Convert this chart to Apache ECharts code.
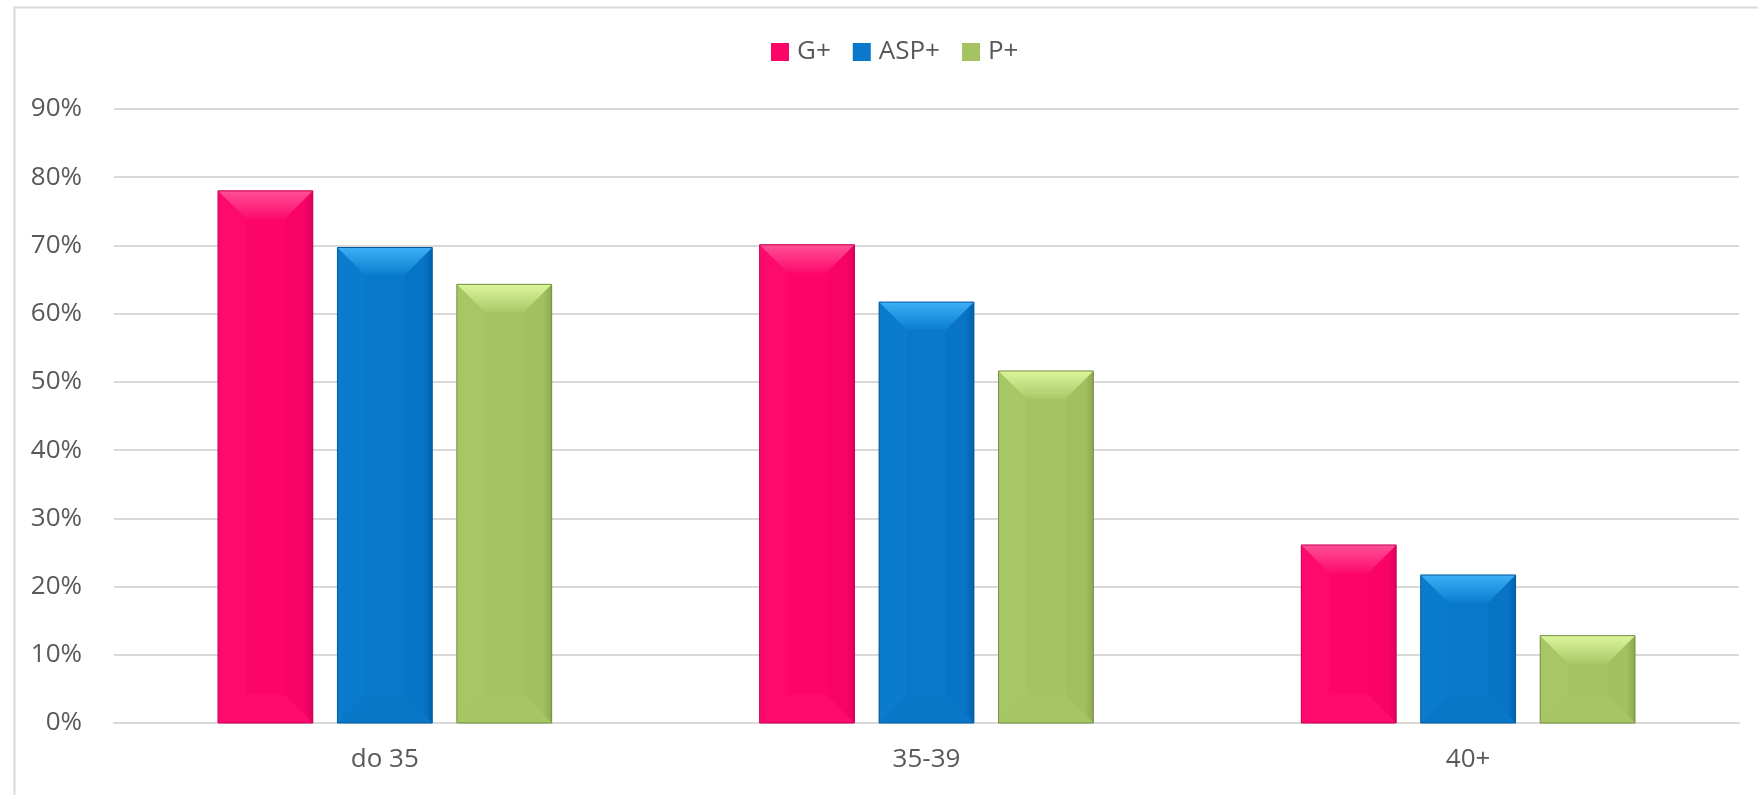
<!DOCTYPE html>
<html>
<head>
<meta charset="utf-8">
<script src="https://cdn.jsdelivr.net/npm/echarts@6/dist/echarts.min.js"></script>
<style>
  html, body { margin: 0; padding: 0; background: #fff; }
  #chart { width: 1758px; height: 795px; }
</style>
</head>
<body>
<div id="chart"></div>
<script>
// categories and values (percent)
const categories = ['do 35', '35-39', '40+']
const seriesNames = ['G+', 'ASP+', 'P+']
const gPlus = [78.0, 70.1, 26.1]
const aspPlus = [69.7, 61.7, 21.7]
const pPlus = [64.3, 51.6, 12.8]
const yTicks = { min: 0, max: 90, step: 10 }

// bevel colours per series
const palettes = [
  { main: '#fc0468', top: ['#ff4f94', '#fd0c6d'], left: '#fd0a6c', right: ['#fa0367', '#de005d'], bottom: '#fe0b6d', border: '#c8004f' },
  { main: '#0977ca', top: ['#3db0f6', '#0b7dd0'], left: '#0b7bcd', right: ['#0874c6', '#0063ae'], bottom: '#0a76c8', border: '#005a9e' },
  { main: '#a4c463', top: ['#dbf69a', '#a9c968'], left: '#a7c766', right: ['#a1c160', '#8ca94f'], bottom: '#a6c665', border: '#758f3e' }
]

const barRatio = 0.175 // bar width / category band
const gapRatio = 0.26 // gap between bars / bar width

const chart = echarts.init(document.getElementById('chart'))

// draw one bevelled bar from the axis scales
function makeRender(idx) {
  const pal = palettes[idx]
  return function (params, api) {
    const cat = api.value(0)
    const val = api.value(1)
    const base = api.coord([cat, 0])
    const topPt = api.coord([cat, val])
    const band = api.size([1, 0])[0]
    const w = band * barRatio
    const gap = w * gapRatio
    const cx = base[0] + (idx - 1) * (w + gap)
    const x0 = cx - w / 2
    const x1 = cx + w / 2
    const y0 = topPt[1]
    const y1 = base[1]
    const d = Math.min(28, w / 2, (y1 - y0) / 2)
    const poly = (pts, fill) => ({ type: 'polygon', shape: { points: pts }, style: { fill: fill } })
    return {
      type: 'group',
      children: [
        { type: 'rect', shape: { x: x0, y: y0, width: w, height: y1 - y0 }, style: { fill: pal.main } },
        poly([[x0, y0], [x0 + d, y0 + d], [x0 + d, y1 - d], [x0, y1]], pal.left),
        poly([[x1, y0], [x1 - d, y0 + d], [x1 - d, y1 - d], [x1, y1]], {
          type: 'linear', x: 0, y: 0, x2: 1, y2: 0,
          colorStops: [{ offset: 0, color: pal.right[0] }, { offset: 0.7, color: pal.right[0] }, { offset: 1, color: pal.right[1] }]
        }),
        poly([[x0, y1], [x1, y1], [x1 - d, y1 - d], [x0 + d, y1 - d]], pal.bottom),
        poly([[x0, y0], [x1, y0], [x1 - d, y0 + d], [x0 + d, y0 + d]], {
          type: 'linear', x: 0, y: 0, x2: 0, y2: 1,
          colorStops: [{ offset: 0, color: pal.top[0] }, { offset: 1, color: pal.top[1] }]
        }),
        {
          type: 'rect',
          shape: { x: x0, y: y0, width: w, height: y1 - y0 },
          style: { fill: null, stroke: pal.border, lineWidth: 1 }
        }
      ]
    }
  }
}

const allValues = [gPlus, aspPlus, pPlus]

const option = {
  backgroundColor: '#ffffff',
  animation: false,
  textStyle: { fontFamily: 'Open Sans' },
  graphic: [
    {
      type: 'rect',
      left: 12,
      top: 5,
      shape: { width: 1800, height: 900 },
      style: { fill: null, stroke: '#d9d9d9', lineWidth: 2 },
      silent: true
    }
  ],
  legend: {
    left: 766,
    top: 34,
    icon: 'rect',
    itemWidth: 18,
    itemHeight: 18,
    itemGap: 22,
    textStyle: { fontSize: 26, color: '#595959', fontFamily: 'Open Sans', padding: [0, 0, 0, 3] },
    data: seriesNames
  },
  grid: {
    left: 114,
    right: 19,
    top: 109,
    bottom: 72,
    containLabel: false,
    outerBoundsMode: 'none'
  },
  xAxis: {
    type: 'category',
    data: categories,
    axisTick: { show: false },
    axisLine: { lineStyle: { color: '#d9d9d9', width: 2 } },
    axisLabel: { fontSize: 26, color: '#595959', margin: 24, fontFamily: 'Open Sans' }
  },
  yAxis: {
    type: 'value',
    min: yTicks.min,
    max: yTicks.max,
    interval: yTicks.step,
    axisLine: { show: false },
    axisTick: { show: false },
    axisLabel: { fontSize: 26, color: '#595959', margin: 32, formatter: '{value}%', fontFamily: 'Open Sans' },
    splitLine: { lineStyle: { color: '#d9d9d9', width: 2 } }
  },
  series: seriesNames.map((name, i) => ({
    name: name,
    type: 'custom',
    renderItem: makeRender(i),
    encode: { x: 0, y: 1 },
    itemStyle: { color: palettes[i].main },
    data: allValues[i].map((v, k) => [k, v])
  }))
}

chart.setOption(option)
</script>
</body>
</html>
